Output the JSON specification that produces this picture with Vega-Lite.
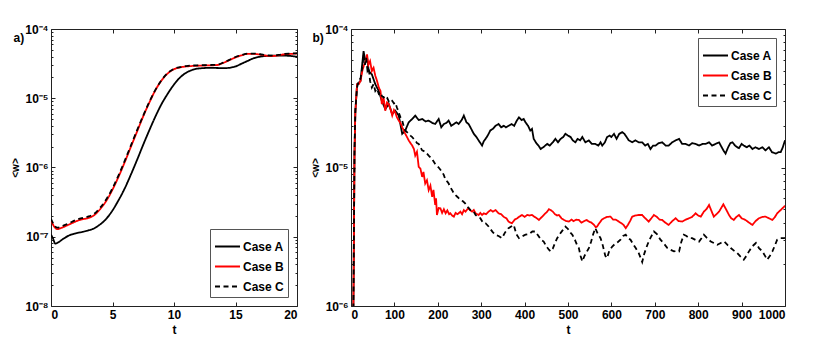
{
"$schema": "https://vega.github.io/schema/vega-lite/v6.json",
"padding": {"left": 10, "top": 22, "right": 5, "bottom": 5},
"background": "#ffffff",
"spacing": 12,
"config": {
  "view": {"stroke": "#222", "strokeWidth": 1},
  "font": "Liberation Sans",
  "axis": {"labelFont": "Liberation Sans", "labelFontWeight": "bold", "labelFontSize": 12, "labelColor": "#000", "titleFont": "Liberation Sans", "titleFontWeight": "bold", "titleFontSize": 12, "titleColor": "#000", "grid": false, "domain": false, "tickColor": "#222", "tickSize": -4, "labelPadding": 7},
  "legend": {"title": null, "strokeColor": "#555", "fillColor": "#fff", "padding": 4, "symbolType": "stroke", "symbolStrokeWidth": 2, "symbolSize": 625, "labelFont": "Liberation Sans", "labelFontWeight": "bold", "labelFontSize": 12, "labelColor": "#000", "labelOffset": 2, "rowPadding": 0, "offset": 9}
},
"datasets": {
"left": [
{"t":0,"w":1.07e-7,"c":"Case A"},{"t":0.15,"w":9.55e-8,"c":"Case A"},{"t":0.35,"w":7.94e-8,"c":"Case A"},{"t":0.6,"w":8.32e-8,"c":"Case A"},{"t":1,"w":9.33e-8,"c":"Case A"},{"t":1.5,"w":1.05e-7,"c":"Case A"},{"t":2,"w":1.12e-7,"c":"Case A"},{"t":2.5,"w":1.17e-7,"c":"Case A"},{"t":3,"w":1.23e-7,"c":"Case A"},{"t":3.5,"w":1.32e-7,"c":"Case A"},{"t":4,"w":1.51e-7,"c":"Case A"},{"t":4.5,"w":1.82e-7,"c":"Case A"},{"t":5,"w":2.40e-7,"c":"Case A"},{"t":5.5,"w":3.39e-7,"c":"Case A"},{"t":6,"w":5.01e-7,"c":"Case A"},{"t":6.5,"w":7.94e-7,"c":"Case A"},{"t":7,"w":1.29e-6,"c":"Case A"},{"t":7.5,"w":2.14e-6,"c":"Case A"},{"t":8,"w":3.47e-6,"c":"Case A"},{"t":8.5,"w":5.50e-6,"c":"Case A"},{"t":9,"w":8.32e-6,"c":"Case A"},{"t":9.5,"w":1.17e-5,"c":"Case A"},{"t":10,"w":1.58e-5,"c":"Case A"},{"t":10.5,"w":2.00e-5,"c":"Case A"},{"t":11,"w":2.34e-5,"c":"Case A"},{"t":11.5,"w":2.57e-5,"c":"Case A"},{"t":12,"w":2.69e-5,"c":"Case A"},{"t":13,"w":2.75e-5,"c":"Case A"},{"t":14,"w":2.72e-5,"c":"Case A"},{"t":14.5,"w":2.75e-5,"c":"Case A"},{"t":15,"w":2.88e-5,"c":"Case A"},{"t":15.5,"w":3.16e-5,"c":"Case A"},{"t":16,"w":3.47e-5,"c":"Case A"},{"t":16.5,"w":3.80e-5,"c":"Case A"},{"t":17,"w":3.98e-5,"c":"Case A"},{"t":18,"w":4.12e-5,"c":"Case A"},{"t":19,"w":4.12e-5,"c":"Case A"},{"t":20,"w":3.98e-5,"c":"Case A"},
{"t":0,"w":1.74e-7,"c":"Case B"},{"t":0.25,"w":1.41e-7,"c":"Case B"},{"t":0.5,"w":1.29e-7,"c":"Case B"},{"t":1,"w":1.38e-7,"c":"Case B"},{"t":1.5,"w":1.51e-7,"c":"Case B"},{"t":2,"w":1.66e-7,"c":"Case B"},{"t":2.5,"w":1.78e-7,"c":"Case B"},{"t":3,"w":1.86e-7,"c":"Case B"},{"t":3.5,"w":2.04e-7,"c":"Case B"},{"t":4,"w":2.51e-7,"c":"Case B"},{"t":4.5,"w":3.31e-7,"c":"Case B"},{"t":5,"w":4.79e-7,"c":"Case B"},{"t":5.5,"w":7.41e-7,"c":"Case B"},{"t":6,"w":1.20e-6,"c":"Case B"},{"t":6.5,"w":2.00e-6,"c":"Case B"},{"t":7,"w":3.31e-6,"c":"Case B"},{"t":7.5,"w":5.50e-6,"c":"Case B"},{"t":8,"w":8.71e-6,"c":"Case B"},{"t":8.5,"w":1.32e-5,"c":"Case B"},{"t":9,"w":1.82e-5,"c":"Case B"},{"t":9.5,"w":2.29e-5,"c":"Case B"},{"t":10,"w":2.63e-5,"c":"Case B"},{"t":10.5,"w":2.79e-5,"c":"Case B"},{"t":11,"w":2.88e-5,"c":"Case B"},{"t":12,"w":2.95e-5,"c":"Case B"},{"t":13,"w":2.99e-5,"c":"Case B"},{"t":13.5,"w":3.02e-5,"c":"Case B"},{"t":14,"w":3.24e-5,"c":"Case B"},{"t":14.5,"w":3.55e-5,"c":"Case B"},{"t":15,"w":3.89e-5,"c":"Case B"},{"t":15.5,"w":4.17e-5,"c":"Case B"},{"t":16,"w":4.37e-5,"c":"Case B"},{"t":16.5,"w":4.37e-5,"c":"Case B"},{"t":17,"w":4.27e-5,"c":"Case B"},{"t":17.5,"w":4.12e-5,"c":"Case B"},{"t":18,"w":4.07e-5,"c":"Case B"},{"t":18.5,"w":4.17e-5,"c":"Case B"},{"t":19,"w":4.32e-5,"c":"Case B"},{"t":19.5,"w":4.37e-5,"c":"Case B"},{"t":20,"w":4.42e-5,"c":"Case B"},
{"t":0,"w":1.82e-7,"c":"Case C"},{"t":0.25,"w":1.48e-7,"c":"Case C"},{"t":0.5,"w":1.35e-7,"c":"Case C"},{"t":1,"w":1.45e-7,"c":"Case C"},{"t":1.5,"w":1.58e-7,"c":"Case C"},{"t":2,"w":1.74e-7,"c":"Case C"},{"t":2.5,"w":1.86e-7,"c":"Case C"},{"t":3,"w":1.95e-7,"c":"Case C"},{"t":3.5,"w":2.14e-7,"c":"Case C"},{"t":4,"w":2.63e-7,"c":"Case C"},{"t":4.5,"w":3.47e-7,"c":"Case C"},{"t":5,"w":5.01e-7,"c":"Case C"},{"t":5.5,"w":7.76e-7,"c":"Case C"},{"t":6,"w":1.26e-6,"c":"Case C"},{"t":6.5,"w":2.09e-6,"c":"Case C"},{"t":7,"w":3.47e-6,"c":"Case C"},{"t":7.5,"w":5.62e-6,"c":"Case C"},{"t":8,"w":8.91e-6,"c":"Case C"},{"t":8.5,"w":1.33e-5,"c":"Case C"},{"t":9,"w":1.84e-5,"c":"Case C"},{"t":9.5,"w":2.32e-5,"c":"Case C"},{"t":10,"w":2.66e-5,"c":"Case C"},{"t":10.5,"w":2.82e-5,"c":"Case C"},{"t":11,"w":2.92e-5,"c":"Case C"},{"t":12,"w":2.99e-5,"c":"Case C"},{"t":13,"w":3.02e-5,"c":"Case C"},{"t":13.5,"w":3.05e-5,"c":"Case C"},{"t":14,"w":3.27e-5,"c":"Case C"},{"t":14.5,"w":3.59e-5,"c":"Case C"},{"t":15,"w":3.94e-5,"c":"Case C"},{"t":15.5,"w":4.22e-5,"c":"Case C"},{"t":16,"w":4.42e-5,"c":"Case C"},{"t":16.5,"w":4.42e-5,"c":"Case C"},{"t":17,"w":4.32e-5,"c":"Case C"},{"t":17.5,"w":4.17e-5,"c":"Case C"},{"t":18,"w":4.12e-5,"c":"Case C"},{"t":18.5,"w":4.22e-5,"c":"Case C"},{"t":19,"w":4.37e-5,"c":"Case C"},{"t":19.5,"w":4.42e-5,"c":"Case C"},{"t":20,"w":4.47e-5,"c":"Case C"}
],
"right": [
{"t":0,"w":1e-7,"c":"Case A"},{"t":4,"w":3e-7,"c":"Case A"},{"t":6,"w":1.5e-6,"c":"Case A"},{"t":8,"w":1.2e-5,"c":"Case A"},{"t":10,"w":2.5e-5,"c":"Case A"},{"t":14,"w":3.99e-5,"c":"Case A"},{"t":18,"w":4.1e-5,"c":"Case A"},{"t":22,"w":4.22e-5,"c":"Case A"},{"t":25,"w":5.25e-5,"c":"Case A"},{"t":29,"w":6.92e-5,"c":"Case A"},{"t":33,"w":5.87e-5,"c":"Case A"},{"t":37,"w":6.2e-5,"c":"Case A"},{"t":41,"w":4.97e-5,"c":"Case A"},{"t":48,"w":4.71e-5,"c":"Case A"},{"t":56,"w":3.99e-5,"c":"Case A"},{"t":64,"w":3.57e-5,"c":"Case A"},{"t":71,"w":3.03e-5,"c":"Case A"},{"t":79,"w":2.64e-5,"c":"Case A"},{"t":87,"w":2.87e-5,"c":"Case A"},{"t":95,"w":2.43e-5,"c":"Case A"},{"t":102,"w":2.57e-5,"c":"Case A"},{"t":110,"w":2.37e-5,"c":"Case A"},{"t":118,"w":1.75e-5,"c":"Case A"},{"t":125,"w":1.85e-5,"c":"Case A"},{"t":133,"w":2.12e-5,"c":"Case A"},{"t":141,"w":2.24e-5,"c":"Case A"},{"t":148,"w":2.37e-5,"c":"Case A"},{"t":156,"w":2.2e-5,"c":"Case A"},{"t":164,"w":2.24e-5,"c":"Case A"},{"t":172,"w":2.15e-5,"c":"Case A"},{"t":179,"w":2.18e-5,"c":"Case A"},{"t":187,"w":2.1e-5,"c":"Case A"},{"t":194,"w":2.06e-5,"c":"Case A"},{"t":202,"w":2.24e-5,"c":"Case A"},{"t":208,"w":1.95e-5,"c":"Case A"},{"t":214,"w":2.06e-5,"c":"Case A"},{"t":220,"w":2.1e-5,"c":"Case A"},{"t":225,"w":2.18e-5,"c":"Case A"},{"t":231,"w":2.0e-5,"c":"Case A"},{"t":237,"w":2.06e-5,"c":"Case A"},{"t":243,"w":2.12e-5,"c":"Case A"},{"t":248,"w":2.06e-5,"c":"Case A"},{"t":255,"w":2.2e-5,"c":"Case A"},{"t":260,"w":2.37e-5,"c":"Case A"},{"t":266,"w":2.12e-5,"c":"Case A"},{"t":271,"w":2.06e-5,"c":"Case A"},{"t":277,"w":1.9e-5,"c":"Case A"},{"t":283,"w":1.75e-5,"c":"Case A"},{"t":289,"w":1.66e-5,"c":"Case A"},{"t":294,"w":1.57e-5,"c":"Case A"},{"t":302,"w":1.44e-5,"c":"Case A"},{"t":306,"w":1.55e-5,"c":"Case A"},{"t":310,"w":1.61e-5,"c":"Case A"},{"t":315,"w":1.7e-5,"c":"Case A"},{"t":321,"w":1.85e-5,"c":"Case A"},{"t":327,"w":1.9e-5,"c":"Case A"},{"t":333,"w":2.0e-5,"c":"Case A"},{"t":340,"w":2.06e-5,"c":"Case A"},{"t":346,"w":1.95e-5,"c":"Case A"},{"t":352,"w":2.0e-5,"c":"Case A"},{"t":357,"w":1.95e-5,"c":"Case A"},{"t":363,"w":2.0e-5,"c":"Case A"},{"t":370,"w":2.06e-5,"c":"Case A"},{"t":376,"w":2.0e-5,"c":"Case A"},{"t":382,"w":2.18e-5,"c":"Case A"},{"t":387,"w":2.3e-5,"c":"Case A"},{"t":393,"w":2.2e-5,"c":"Case A"},{"t":398,"w":2.24e-5,"c":"Case A"},{"t":402,"w":2.12e-5,"c":"Case A"},{"t":408,"w":2.0e-5,"c":"Case A"},{"t":413,"w":1.85e-5,"c":"Case A"},{"t":417,"w":1.9e-5,"c":"Case A"},{"t":421,"w":1.61e-5,"c":"Case A"},{"t":427,"w":1.5e-5,"c":"Case A"},{"t":432,"w":1.44e-5,"c":"Case A"},{"t":437,"w":1.36e-5,"c":"Case A"},{"t":443,"w":1.4e-5,"c":"Case A"},{"t":452,"w":1.48e-5,"c":"Case A"},{"t":458,"w":1.44e-5,"c":"Case A"},{"t":465,"w":1.52e-5,"c":"Case A"},{"t":471,"w":1.61e-5,"c":"Case A"},{"t":477,"w":1.52e-5,"c":"Case A"},{"t":483,"w":1.61e-5,"c":"Case A"},{"t":489,"w":1.66e-5,"c":"Case A"},{"t":494,"w":1.75e-5,"c":"Case A"},{"t":500,"w":1.7e-5,"c":"Case A"},{"t":506,"w":1.66e-5,"c":"Case A"},{"t":511,"w":1.57e-5,"c":"Case A"},{"t":517,"w":1.52e-5,"c":"Case A"},{"t":522,"w":1.61e-5,"c":"Case A"},{"t":528,"w":1.57e-5,"c":"Case A"},{"t":533,"w":1.66e-5,"c":"Case A"},{"t":540,"w":1.52e-5,"c":"Case A"},{"t":548,"w":1.57e-5,"c":"Case A"},{"t":555,"w":1.48e-5,"c":"Case A"},{"t":563,"w":1.48e-5,"c":"Case A"},{"t":570,"w":1.44e-5,"c":"Case A"},{"t":575,"w":1.52e-5,"c":"Case A"},{"t":579,"w":1.44e-5,"c":"Case A"},{"t":585,"w":1.52e-5,"c":"Case A"},{"t":590,"w":1.66e-5,"c":"Case A"},{"t":596,"w":1.7e-5,"c":"Case A"},{"t":600,"w":1.66e-5,"c":"Case A"},{"t":606,"w":1.75e-5,"c":"Case A"},{"t":612,"w":1.61e-5,"c":"Case A"},{"t":618,"w":1.75e-5,"c":"Case A"},{"t":625,"w":1.8e-5,"c":"Case A"},{"t":630,"w":1.75e-5,"c":"Case A"},{"t":635,"w":1.66e-5,"c":"Case A"},{"t":640,"w":1.57e-5,"c":"Case A"},{"t":648,"w":1.52e-5,"c":"Case A"},{"t":655,"w":1.57e-5,"c":"Case A"},{"t":663,"w":1.52e-5,"c":"Case A"},{"t":671,"w":1.52e-5,"c":"Case A"},{"t":678,"w":1.44e-5,"c":"Case A"},{"t":684,"w":1.48e-5,"c":"Case A"},{"t":690,"w":1.36e-5,"c":"Case A"},{"t":696,"w":1.44e-5,"c":"Case A"},{"t":702,"w":1.44e-5,"c":"Case A"},{"t":709,"w":1.5e-5,"c":"Case A"},{"t":717,"w":1.52e-5,"c":"Case A"},{"t":725,"w":1.44e-5,"c":"Case A"},{"t":732,"w":1.44e-5,"c":"Case A"},{"t":740,"w":1.52e-5,"c":"Case A"},{"t":748,"w":1.57e-5,"c":"Case A"},{"t":756,"w":1.61e-5,"c":"Case A"},{"t":763,"w":1.48e-5,"c":"Case A"},{"t":771,"w":1.48e-5,"c":"Case A"},{"t":779,"w":1.44e-5,"c":"Case A"},{"t":786,"w":1.5e-5,"c":"Case A"},{"t":794,"w":1.48e-5,"c":"Case A"},{"t":802,"w":1.44e-5,"c":"Case A"},{"t":810,"w":1.48e-5,"c":"Case A"},{"t":817,"w":1.48e-5,"c":"Case A"},{"t":825,"w":1.52e-5,"c":"Case A"},{"t":832,"w":1.44e-5,"c":"Case A"},{"t":840,"w":1.48e-5,"c":"Case A"},{"t":848,"w":1.52e-5,"c":"Case A"},{"t":852,"w":1.44e-5,"c":"Case A"},{"t":858,"w":1.33e-5,"c":"Case A"},{"t":863,"w":1.26e-5,"c":"Case A"},{"t":869,"w":1.4e-5,"c":"Case A"},{"t":874,"w":1.5e-5,"c":"Case A"},{"t":879,"w":1.52e-5,"c":"Case A"},{"t":885,"w":1.44e-5,"c":"Case A"},{"t":890,"w":1.4e-5,"c":"Case A"},{"t":894,"w":1.38e-5,"c":"Case A"},{"t":900,"w":1.48e-5,"c":"Case A"},{"t":905,"w":1.44e-5,"c":"Case A"},{"t":912,"w":1.4e-5,"c":"Case A"},{"t":918,"w":1.44e-5,"c":"Case A"},{"t":925,"w":1.36e-5,"c":"Case A"},{"t":932,"w":1.4e-5,"c":"Case A"},{"t":940,"w":1.36e-5,"c":"Case A"},{"t":948,"w":1.4e-5,"c":"Case A"},{"t":955,"w":1.33e-5,"c":"Case A"},{"t":963,"w":1.4e-5,"c":"Case A"},{"t":970,"w":1.29e-5,"c":"Case A"},{"t":979,"w":1.26e-5,"c":"Case A"},{"t":985,"w":1.29e-5,"c":"Case A"},{"t":990,"w":1.29e-5,"c":"Case A"},{"t":995,"w":1.4e-5,"c":"Case A"},{"t":1000,"w":1.57e-5,"c":"Case A"},
{"t":0,"w":1e-7,"c":"Case B"},{"t":4,"w":3e-7,"c":"Case B"},{"t":6,"w":1.5e-6,"c":"Case B"},{"t":8,"w":1.2e-5,"c":"Case B"},{"t":10,"w":2.5e-5,"c":"Case B"},{"t":14,"w":3.99e-5,"c":"Case B"},{"t":18,"w":4.0e-5,"c":"Case B"},{"t":22,"w":4.22e-5,"c":"Case B"},{"t":26,"w":4.97e-5,"c":"Case B"},{"t":30,"w":5.5e-5,"c":"Case B"},{"t":34,"w":5.87e-5,"c":"Case B"},{"t":37,"w":6.55e-5,"c":"Case B"},{"t":40,"w":5.5e-5,"c":"Case B"},{"t":44,"w":5.87e-5,"c":"Case B"},{"t":48,"w":4.97e-5,"c":"Case B"},{"t":52,"w":5.25e-5,"c":"Case B"},{"t":56,"w":4.6e-5,"c":"Case B"},{"t":60,"w":4.22e-5,"c":"Case B"},{"t":64,"w":3.78e-5,"c":"Case B"},{"t":68,"w":3.57e-5,"c":"Case B"},{"t":71,"w":2.87e-5,"c":"Case B"},{"t":75,"w":3.2e-5,"c":"Case B"},{"t":79,"w":2.57e-5,"c":"Case B"},{"t":83,"w":2.95e-5,"c":"Case B"},{"t":87,"w":2.87e-5,"c":"Case B"},{"t":91,"w":2.64e-5,"c":"Case B"},{"t":95,"w":2.37e-5,"c":"Case B"},{"t":99,"w":2.6e-5,"c":"Case B"},{"t":102,"w":2.5e-5,"c":"Case B"},{"t":106,"w":2.3e-5,"c":"Case B"},{"t":110,"w":2.18e-5,"c":"Case B"},{"t":114,"w":2.1e-5,"c":"Case B"},{"t":118,"w":1.95e-5,"c":"Case B"},{"t":122,"w":1.85e-5,"c":"Case B"},{"t":125,"w":1.75e-5,"c":"Case B"},{"t":129,"w":1.66e-5,"c":"Case B"},{"t":133,"w":1.57e-5,"c":"Case B"},{"t":137,"w":1.5e-5,"c":"Case B"},{"t":141,"w":1.44e-5,"c":"Case B"},{"t":145,"w":1.36e-5,"c":"Case B"},{"t":148,"w":1.22e-5,"c":"Case B"},{"t":152,"w":1.3e-5,"c":"Case B"},{"t":156,"w":1.01e-5,"c":"Case B"},{"t":160,"w":9.8e-6,"c":"Case B"},{"t":164,"w":8.55e-6,"c":"Case B"},{"t":167,"w":9.29e-6,"c":"Case B"},{"t":171,"w":7.66e-6,"c":"Case B"},{"t":175,"w":8.09e-6,"c":"Case B"},{"t":179,"w":6.86e-6,"c":"Case B"},{"t":183,"w":7.4e-6,"c":"Case B"},{"t":187,"w":6.15e-6,"c":"Case B"},{"t":190,"w":6.9e-6,"c":"Case B"},{"t":194,"w":5.36e-6,"c":"Case B"},{"t":196,"w":6.0e-6,"c":"Case B"},{"t":198,"w":4.54e-6,"c":"Case B"},{"t":202,"w":5.1e-6,"c":"Case B"},{"t":206,"w":5.07e-6,"c":"Case B"},{"t":210,"w":4.7e-6,"c":"Case B"},{"t":214,"w":5.0e-6,"c":"Case B"},{"t":218,"w":4.67e-6,"c":"Case B"},{"t":222,"w":4.9e-6,"c":"Case B"},{"t":226,"w":4.6e-6,"c":"Case B"},{"t":229,"w":4.67e-6,"c":"Case B"},{"t":233,"w":4.5e-6,"c":"Case B"},{"t":237,"w":4.42e-6,"c":"Case B"},{"t":241,"w":4.7e-6,"c":"Case B"},{"t":245,"w":4.6e-6,"c":"Case B"},{"t":248,"w":4.67e-6,"c":"Case B"},{"t":252,"w":4.8e-6,"c":"Case B"},{"t":256,"w":4.6e-6,"c":"Case B"},{"t":260,"w":4.93e-6,"c":"Case B"},{"t":264,"w":4.8e-6,"c":"Case B"},{"t":268,"w":5.0e-6,"c":"Case B"},{"t":271,"w":5.07e-6,"c":"Case B"},{"t":275,"w":4.9e-6,"c":"Case B"},{"t":279,"w":4.8e-6,"c":"Case B"},{"t":283,"w":4.93e-6,"c":"Case B"},{"t":287,"w":4.67e-6,"c":"Case B"},{"t":291,"w":4.6e-6,"c":"Case B"},{"t":294,"w":4.54e-6,"c":"Case B"},{"t":298,"w":4.7e-6,"c":"Case B"},{"t":302,"w":4.54e-6,"c":"Case B"},{"t":306,"w":4.67e-6,"c":"Case B"},{"t":311,"w":4.6e-6,"c":"Case B"},{"t":317,"w":4.8e-6,"c":"Case B"},{"t":322,"w":4.93e-6,"c":"Case B"},{"t":327,"w":4.8e-6,"c":"Case B"},{"t":333,"w":4.93e-6,"c":"Case B"},{"t":340,"w":4.67e-6,"c":"Case B"},{"t":346,"w":4.6e-6,"c":"Case B"},{"t":352,"w":4.4e-6,"c":"Case B"},{"t":358,"w":4.3e-6,"c":"Case B"},{"t":363,"w":4.07e-6,"c":"Case B"},{"t":367,"w":4.0e-6,"c":"Case B"},{"t":371,"w":3.96e-6,"c":"Case B"},{"t":377,"w":4.2e-6,"c":"Case B"},{"t":383,"w":4.3e-6,"c":"Case B"},{"t":388,"w":4.42e-6,"c":"Case B"},{"t":394,"w":4.54e-6,"c":"Case B"},{"t":400,"w":4.4e-6,"c":"Case B"},{"t":406,"w":4.54e-6,"c":"Case B"},{"t":411,"w":4.5e-6,"c":"Case B"},{"t":417,"w":4.54e-6,"c":"Case B"},{"t":423,"w":4.4e-6,"c":"Case B"},{"t":428,"w":4.3e-6,"c":"Case B"},{"t":433,"w":4.18e-6,"c":"Case B"},{"t":440,"w":4.4e-6,"c":"Case B"},{"t":446,"w":4.6e-6,"c":"Case B"},{"t":452,"w":4.8e-6,"c":"Case B"},{"t":456,"w":5.0e-6,"c":"Case B"},{"t":460,"w":4.93e-6,"c":"Case B"},{"t":465,"w":4.8e-6,"c":"Case B"},{"t":470,"w":4.6e-6,"c":"Case B"},{"t":475,"w":4.5e-6,"c":"Case B"},{"t":479,"w":4.54e-6,"c":"Case B"},{"t":485,"w":4.3e-6,"c":"Case B"},{"t":490,"w":4.2e-6,"c":"Case B"},{"t":496,"w":4.1e-6,"c":"Case B"},{"t":502,"w":4.07e-6,"c":"Case B"},{"t":508,"w":4.2e-6,"c":"Case B"},{"t":513,"w":4.1e-6,"c":"Case B"},{"t":519,"w":4.2e-6,"c":"Case B"},{"t":525,"w":4.18e-6,"c":"Case B"},{"t":531,"w":4.0e-6,"c":"Case B"},{"t":537,"w":4.1e-6,"c":"Case B"},{"t":543,"w":4.18e-6,"c":"Case B"},{"t":548,"w":4.07e-6,"c":"Case B"},{"t":554,"w":4.0e-6,"c":"Case B"},{"t":560,"w":3.85e-6,"c":"Case B"},{"t":564,"w":3.7e-6,"c":"Case B"},{"t":567,"w":3.75e-6,"c":"Case B"},{"t":572,"w":3.96e-6,"c":"Case B"},{"t":578,"w":4.2e-6,"c":"Case B"},{"t":583,"w":4.3e-6,"c":"Case B"},{"t":590,"w":4.4e-6,"c":"Case B"},{"t":598,"w":4.42e-6,"c":"Case B"},{"t":604,"w":4.2e-6,"c":"Case B"},{"t":610,"w":4.2e-6,"c":"Case B"},{"t":617,"w":4.07e-6,"c":"Case B"},{"t":623,"w":3.96e-6,"c":"Case B"},{"t":628,"w":3.85e-6,"c":"Case B"},{"t":633,"w":3.65e-6,"c":"Case B"},{"t":638,"w":3.85e-6,"c":"Case B"},{"t":643,"w":4.1e-6,"c":"Case B"},{"t":648,"w":4.42e-6,"c":"Case B"},{"t":655,"w":4.5e-6,"c":"Case B"},{"t":663,"w":4.54e-6,"c":"Case B"},{"t":671,"w":4.54e-6,"c":"Case B"},{"t":678,"w":4.3e-6,"c":"Case B"},{"t":686,"w":4.07e-6,"c":"Case B"},{"t":692,"w":4.3e-6,"c":"Case B"},{"t":698,"w":4.54e-6,"c":"Case B"},{"t":705,"w":4.4e-6,"c":"Case B"},{"t":711,"w":4.2e-6,"c":"Case B"},{"t":717,"w":4.18e-6,"c":"Case B"},{"t":724,"w":4.0e-6,"c":"Case B"},{"t":732,"w":3.85e-6,"c":"Case B"},{"t":740,"w":4.1e-6,"c":"Case B"},{"t":748,"w":4.3e-6,"c":"Case B"},{"t":755,"w":4.1e-6,"c":"Case B"},{"t":763,"w":4.07e-6,"c":"Case B"},{"t":771,"w":4.2e-6,"c":"Case B"},{"t":779,"w":4.3e-6,"c":"Case B"},{"t":786,"w":4.4e-6,"c":"Case B"},{"t":794,"w":4.67e-6,"c":"Case B"},{"t":800,"w":4.5e-6,"c":"Case B"},{"t":806,"w":4.42e-6,"c":"Case B"},{"t":813,"w":4.8e-6,"c":"Case B"},{"t":819,"w":5.0e-6,"c":"Case B"},{"t":825,"w":5.36e-6,"c":"Case B"},{"t":830,"w":4.9e-6,"c":"Case B"},{"t":836,"w":4.42e-6,"c":"Case B"},{"t":842,"w":4.6e-6,"c":"Case B"},{"t":848,"w":4.8e-6,"c":"Case B"},{"t":853,"w":5.1e-6,"c":"Case B"},{"t":858,"w":5.42e-6,"c":"Case B"},{"t":864,"w":5.0e-6,"c":"Case B"},{"t":871,"w":4.54e-6,"c":"Case B"},{"t":876,"w":4.3e-6,"c":"Case B"},{"t":882,"w":4.18e-6,"c":"Case B"},{"t":888,"w":4.4e-6,"c":"Case B"},{"t":894,"w":4.54e-6,"c":"Case B"},{"t":900,"w":4.3e-6,"c":"Case B"},{"t":909,"w":4.18e-6,"c":"Case B"},{"t":917,"w":4.0e-6,"c":"Case B"},{"t":925,"w":3.85e-6,"c":"Case B"},{"t":932,"w":4.1e-6,"c":"Case B"},{"t":940,"w":4.3e-6,"c":"Case B"},{"t":948,"w":4.4e-6,"c":"Case B"},{"t":955,"w":4.42e-6,"c":"Case B"},{"t":963,"w":4.3e-6,"c":"Case B"},{"t":971,"w":4.18e-6,"c":"Case B"},{"t":977,"w":4.4e-6,"c":"Case B"},{"t":982,"w":4.67e-6,"c":"Case B"},{"t":990,"w":4.93e-6,"c":"Case B"},{"t":998,"w":5.21e-6,"c":"Case B"},{"t":1000,"w":5.3e-6,"c":"Case B"},
{"t":0,"w":1e-7,"c":"Case C"},{"t":4,"w":3e-7,"c":"Case C"},{"t":6,"w":1.5e-6,"c":"Case C"},{"t":8,"w":1.3e-5,"c":"Case C"},{"t":10,"w":2.6e-5,"c":"Case C"},{"t":14,"w":3.8e-5,"c":"Case C"},{"t":18,"w":4.22e-5,"c":"Case C"},{"t":22,"w":4.4e-5,"c":"Case C"},{"t":26,"w":5.25e-5,"c":"Case C"},{"t":29,"w":6.5e-5,"c":"Case C"},{"t":32,"w":5.5e-5,"c":"Case C"},{"t":35,"w":6.2e-5,"c":"Case C"},{"t":38,"w":5.0e-5,"c":"Case C"},{"t":41,"w":5.2e-5,"c":"Case C"},{"t":44,"w":4.2e-5,"c":"Case C"},{"t":48,"w":3.78e-5,"c":"Case C"},{"t":52,"w":4.0e-5,"c":"Case C"},{"t":56,"w":3.57e-5,"c":"Case C"},{"t":60,"w":3.7e-5,"c":"Case C"},{"t":64,"w":3.4e-5,"c":"Case C"},{"t":68,"w":3.5e-5,"c":"Case C"},{"t":71,"w":3.29e-5,"c":"Case C"},{"t":75,"w":3.2e-5,"c":"Case C"},{"t":79,"w":3.3e-5,"c":"Case C"},{"t":83,"w":3.2e-5,"c":"Case C"},{"t":87,"w":3.0e-5,"c":"Case C"},{"t":91,"w":3.1e-5,"c":"Case C"},{"t":95,"w":3.03e-5,"c":"Case C"},{"t":99,"w":2.9e-5,"c":"Case C"},{"t":102,"w":2.95e-5,"c":"Case C"},{"t":106,"w":2.7e-5,"c":"Case C"},{"t":110,"w":2.5e-5,"c":"Case C"},{"t":114,"w":2.3e-5,"c":"Case C"},{"t":118,"w":2.18e-5,"c":"Case C"},{"t":122,"w":1.95e-5,"c":"Case C"},{"t":125,"w":1.85e-5,"c":"Case C"},{"t":129,"w":1.8e-5,"c":"Case C"},{"t":133,"w":1.75e-5,"c":"Case C"},{"t":137,"w":1.7e-5,"c":"Case C"},{"t":141,"w":1.66e-5,"c":"Case C"},{"t":145,"w":1.6e-5,"c":"Case C"},{"t":148,"w":1.57e-5,"c":"Case C"},{"t":152,"w":1.5e-5,"c":"Case C"},{"t":156,"w":1.48e-5,"c":"Case C"},{"t":160,"w":1.4e-5,"c":"Case C"},{"t":164,"w":1.33e-5,"c":"Case C"},{"t":171,"w":1.3e-5,"c":"Case C"},{"t":179,"w":1.22e-5,"c":"Case C"},{"t":187,"w":1.15e-5,"c":"Case C"},{"t":194,"w":1.06e-5,"c":"Case C"},{"t":202,"w":1.0e-5,"c":"Case C"},{"t":210,"w":9.29e-6,"c":"Case C"},{"t":214,"w":8.8e-6,"c":"Case C"},{"t":218,"w":8.09e-6,"c":"Case C"},{"t":222,"w":7.9e-6,"c":"Case C"},{"t":225,"w":7.66e-6,"c":"Case C"},{"t":229,"w":7.2e-6,"c":"Case C"},{"t":233,"w":6.86e-6,"c":"Case C"},{"t":237,"w":6.5e-6,"c":"Case C"},{"t":241,"w":6.31e-6,"c":"Case C"},{"t":246,"w":6.1e-6,"c":"Case C"},{"t":252,"w":5.82e-6,"c":"Case C"},{"t":258,"w":5.7e-6,"c":"Case C"},{"t":263,"w":5.51e-6,"c":"Case C"},{"t":269,"w":5.2e-6,"c":"Case C"},{"t":275,"w":4.93e-6,"c":"Case C"},{"t":281,"w":4.9e-6,"c":"Case C"},{"t":287,"w":4.54e-6,"c":"Case C"},{"t":292,"w":4.4e-6,"c":"Case C"},{"t":298,"w":4.3e-6,"c":"Case C"},{"t":304,"w":4.0e-6,"c":"Case C"},{"t":310,"w":3.96e-6,"c":"Case C"},{"t":317,"w":3.75e-6,"c":"Case C"},{"t":321,"w":3.6e-6,"c":"Case C"},{"t":327,"w":3.4e-6,"c":"Case C"},{"t":333,"w":3.27e-6,"c":"Case C"},{"t":340,"w":3.2e-6,"c":"Case C"},{"t":348,"w":3.09e-6,"c":"Case C"},{"t":355,"w":3.4e-6,"c":"Case C"},{"t":363,"w":3.65e-6,"c":"Case C"},{"t":369,"w":3.75e-6,"c":"Case C"},{"t":375,"w":3.85e-6,"c":"Case C"},{"t":381,"w":3.3e-6,"c":"Case C"},{"t":387,"w":3.09e-6,"c":"Case C"},{"t":394,"w":3.18e-6,"c":"Case C"},{"t":402,"w":3.27e-6,"c":"Case C"},{"t":410,"w":3.3e-6,"c":"Case C"},{"t":418,"w":3.45e-6,"c":"Case C"},{"t":425,"w":3.45e-6,"c":"Case C"},{"t":432,"w":3.2e-6,"c":"Case C"},{"t":438,"w":3.0e-6,"c":"Case C"},{"t":444,"w":2.92e-6,"c":"Case C"},{"t":450,"w":2.7e-6,"c":"Case C"},{"t":456,"w":2.55e-6,"c":"Case C"},{"t":460,"w":2.48e-6,"c":"Case C"},{"t":465,"w":2.6e-6,"c":"Case C"},{"t":470,"w":2.85e-6,"c":"Case C"},{"t":475,"w":3.09e-6,"c":"Case C"},{"t":481,"w":3.3e-6,"c":"Case C"},{"t":487,"w":3.5e-6,"c":"Case C"},{"t":494,"w":3.75e-6,"c":"Case C"},{"t":500,"w":3.6e-6,"c":"Case C"},{"t":505,"w":3.4e-6,"c":"Case C"},{"t":510,"w":3.27e-6,"c":"Case C"},{"t":516,"w":3.0e-6,"c":"Case C"},{"t":521,"w":2.75e-6,"c":"Case C"},{"t":525,"w":2.62e-6,"c":"Case C"},{"t":529,"w":2.3e-6,"c":"Case C"},{"t":533,"w":2.1e-6,"c":"Case C"},{"t":538,"w":2.3e-6,"c":"Case C"},{"t":543,"w":2.45e-6,"c":"Case C"},{"t":548,"w":2.62e-6,"c":"Case C"},{"t":553,"w":2.9e-6,"c":"Case C"},{"t":558,"w":3.3e-6,"c":"Case C"},{"t":563,"w":3.65e-6,"c":"Case C"},{"t":569,"w":3.3e-6,"c":"Case C"},{"t":575,"w":3.09e-6,"c":"Case C"},{"t":580,"w":2.75e-6,"c":"Case C"},{"t":586,"w":2.3e-6,"c":"Case C"},{"t":590,"w":2.22e-6,"c":"Case C"},{"t":595,"w":2.5e-6,"c":"Case C"},{"t":602,"w":2.69e-6,"c":"Case C"},{"t":608,"w":2.8e-6,"c":"Case C"},{"t":615,"w":2.9e-6,"c":"Case C"},{"t":621,"w":3.01e-6,"c":"Case C"},{"t":627,"w":3.2e-6,"c":"Case C"},{"t":633,"w":3.27e-6,"c":"Case C"},{"t":638,"w":3.1e-6,"c":"Case C"},{"t":644,"w":3.01e-6,"c":"Case C"},{"t":650,"w":2.8e-6,"c":"Case C"},{"t":656,"w":2.62e-6,"c":"Case C"},{"t":663,"w":2.41e-6,"c":"Case C"},{"t":668,"w":2.2e-6,"c":"Case C"},{"t":671,"w":2.08e-6,"c":"Case C"},{"t":676,"w":2.4e-6,"c":"Case C"},{"t":683,"w":2.77e-6,"c":"Case C"},{"t":690,"w":3.1e-6,"c":"Case C"},{"t":698,"w":3.45e-6,"c":"Case C"},{"t":705,"w":3.3e-6,"c":"Case C"},{"t":713,"w":3.01e-6,"c":"Case C"},{"t":720,"w":2.85e-6,"c":"Case C"},{"t":729,"w":2.62e-6,"c":"Case C"},{"t":736,"w":2.55e-6,"c":"Case C"},{"t":744,"w":2.48e-6,"c":"Case C"},{"t":750,"w":2.5e-6,"c":"Case C"},{"t":756,"w":2.48e-6,"c":"Case C"},{"t":761,"w":2.9e-6,"c":"Case C"},{"t":767,"w":3.27e-6,"c":"Case C"},{"t":773,"w":3.2e-6,"c":"Case C"},{"t":779,"w":3.1e-6,"c":"Case C"},{"t":786,"w":3.09e-6,"c":"Case C"},{"t":794,"w":3.0e-6,"c":"Case C"},{"t":802,"w":2.92e-6,"c":"Case C"},{"t":808,"w":3.1e-6,"c":"Case C"},{"t":813,"w":3.27e-6,"c":"Case C"},{"t":820,"w":3.1e-6,"c":"Case C"},{"t":829,"w":2.92e-6,"c":"Case C"},{"t":836,"w":2.85e-6,"c":"Case C"},{"t":844,"w":2.77e-6,"c":"Case C"},{"t":852,"w":2.85e-6,"c":"Case C"},{"t":860,"w":2.92e-6,"c":"Case C"},{"t":868,"w":2.75e-6,"c":"Case C"},{"t":875,"w":2.62e-6,"c":"Case C"},{"t":883,"w":2.5e-6,"c":"Case C"},{"t":890,"w":2.41e-6,"c":"Case C"},{"t":897,"w":2.28e-6,"c":"Case C"},{"t":905,"w":2.16e-6,"c":"Case C"},{"t":911,"w":2.3e-6,"c":"Case C"},{"t":917,"w":2.48e-6,"c":"Case C"},{"t":925,"w":2.7e-6,"c":"Case C"},{"t":933,"w":2.85e-6,"c":"Case C"},{"t":940,"w":2.62e-6,"c":"Case C"},{"t":948,"w":2.48e-6,"c":"Case C"},{"t":954,"w":2.3e-6,"c":"Case C"},{"t":959,"w":2.16e-6,"c":"Case C"},{"t":965,"w":2.3e-6,"c":"Case C"},{"t":971,"w":2.48e-6,"c":"Case C"},{"t":977,"w":2.75e-6,"c":"Case C"},{"t":982,"w":3.01e-6,"c":"Case C"},{"t":990,"w":3.09e-6,"c":"Case C"},{"t":998,"w":3.09e-6,"c":"Case C"},{"t":1000,"w":3.1e-6,"c":"Case C"}
]
},
"hconcat": [
{
  "width": 246, "height": 277,
  "data": {"name": "left"},
  "resolve": {"axis": {"x": "independent", "y": "independent"}},
  "layer": [
    {
      "mark": {"type": "line", "strokeWidth": 1.8, "interpolate": "monotone", "clip": true},
      "encoding": {
        "x": {"field": "t", "type": "quantitative", "scale": {"domain": [0, 20], "nice": false, "zero": false}, "axis": {"values": [0, 5, 10, 15, 20], "title": "t", "titlePadding": 4, "orient": "bottom"}},
        "y": {"field": "w", "type": "quantitative", "scale": {"type": "log", "domain": [1e-8, 1e-4], "nice": false}, "axis": {"orient": "left", "values": [1e-8, 1e-7, 1e-6, 1e-5, 1e-4], "labelExpr": "'10⁻' + ['⁰','¹','²','³','⁴','⁵','⁶','⁷','⁸','⁹'][-round(log(datum.value)/LN10)]", "title": "<w>", "titleFontSize": 10, "titlePadding": 4}},
        "color": {"field": "c", "type": "nominal", "scale": {"domain": ["Case A", "Case B", "Case C"], "range": ["#000000", "#ff0000", "#000000"]}, "legend": {"orient": "bottom-right"}},
        "strokeDash": {"field": "c", "type": "nominal", "scale": {"domain": ["Case A", "Case B", "Case C"], "range": [[1, 0], [1, 0], [5, 3.5]]}, "legend": {"orient": "bottom-right"}}
      }
    },
    {
      "mark": {"type": "line", "strokeOpacity": 0},
      "encoding": {
        "x": {"field": "t", "type": "quantitative", "axis": {"orient": "top", "values": [0, 5, 10, 15, 20], "labels": false, "title": "a)", "titleX": -38, "titleY": 12, "titleAlign": "left", "titleBaseline": "alphabetic", "titleAngle": 0}},
        "y": {"field": "w", "type": "quantitative", "axis": {"orient": "right", "values": [1e-8, 1e-7, 1e-6, 1e-5, 1e-4], "labels": false, "title": null}}
      }
    },
    {
      "mark": {"type": "line", "strokeOpacity": 0},
      "encoding": {
        "x": {"field": "t", "type": "quantitative", "axis": null},
        "y": {"field": "w", "type": "quantitative", "axis": {"orient": "left", "values": [2e-8,3e-8,4e-8,5e-8,6e-8,7e-8,8e-8,9e-8,2e-7,3e-7,4e-7,5e-7,6e-7,7e-7,8e-7,9e-7,2e-6,3e-6,4e-6,5e-6,6e-6,7e-6,8e-6,9e-6,2e-5,3e-5,4e-5,5e-5,6e-5,7e-5,8e-5,9e-5], "labels": false, "title": null, "tickSize": -2}}
      }
    },
    {
      "mark": {"type": "line", "strokeOpacity": 0},
      "encoding": {
        "x": {"field": "t", "type": "quantitative", "axis": null},
        "y": {"field": "w", "type": "quantitative", "axis": {"orient": "right", "values": [2e-8,3e-8,4e-8,5e-8,6e-8,7e-8,8e-8,9e-8,2e-7,3e-7,4e-7,5e-7,6e-7,7e-7,8e-7,9e-7,2e-6,3e-6,4e-6,5e-6,6e-6,7e-6,8e-6,9e-6,2e-5,3e-5,4e-5,5e-5,6e-5,7e-5,8e-5,9e-5], "labels": false, "title": null, "tickSize": -2}}
      }
    }
  ]
},
{
  "width": 434, "height": 277,
  "data": {"name": "right"},
  "resolve": {"axis": {"x": "independent", "y": "independent"}},
  "layer": [
    {
      "mark": {"type": "line", "strokeWidth": 1.8, "clip": true},
      "encoding": {
        "x": {"field": "t", "type": "quantitative", "scale": {"domain": [0, 1000], "nice": false}, "axis": {"values": [0,100,200,300,400,500,600,700,800,900,1000], "format": "d", "title": "t", "titlePadding": 4, "orient": "bottom"}},
        "y": {"field": "w", "type": "quantitative", "scale": {"type": "log", "domain": [1e-6, 1e-4], "nice": false}, "axis": {"orient": "left", "values": [1e-6, 1e-5, 1e-4], "labelExpr": "'10⁻' + ['⁰','¹','²','³','⁴','⁵','⁶','⁷','⁸','⁹'][-round(log(datum.value)/LN10)]", "title": "<w>", "titleFontSize": 10, "titlePadding": 4}},
        "color": {"field": "c", "type": "nominal", "scale": {"domain": ["Case A", "Case B", "Case C"], "range": ["#000000", "#ff0000", "#000000"]}, "legend": {"orient": "top-right"}},
        "strokeDash": {"field": "c", "type": "nominal", "scale": {"domain": ["Case A", "Case B", "Case C"], "range": [[1, 0], [1, 0], [5, 3.5]]}, "legend": {"orient": "top-right"}}
      }
    },
    {
      "mark": {"type": "line", "strokeOpacity": 0},
      "encoding": {
        "x": {"field": "t", "type": "quantitative", "axis": {"orient": "top", "values": [0,100,200,300,400,500,600,700,800,900,1000], "labels": false, "title": "b)", "titleX": -39, "titleY": 12, "titleAlign": "left", "titleBaseline": "alphabetic", "titleAngle": 0}},
        "y": {"field": "w", "type": "quantitative", "axis": {"orient": "right", "values": [1e-6, 1e-5, 1e-4], "labels": false, "title": null}}
      }
    },
    {
      "mark": {"type": "line", "strokeOpacity": 0},
      "encoding": {
        "x": {"field": "t", "type": "quantitative", "axis": null},
        "y": {"field": "w", "type": "quantitative", "axis": {"orient": "left", "values": [2e-6,3e-6,4e-6,5e-6,6e-6,7e-6,8e-6,9e-6,2e-5,3e-5,4e-5,5e-5,6e-5,7e-5,8e-5,9e-5], "labels": false, "title": null, "tickSize": -2}}
      }
    },
    {
      "mark": {"type": "line", "strokeOpacity": 0},
      "encoding": {
        "x": {"field": "t", "type": "quantitative", "axis": null},
        "y": {"field": "w", "type": "quantitative", "axis": {"orient": "right", "values": [2e-6,3e-6,4e-6,5e-6,6e-6,7e-6,8e-6,9e-6,2e-5,3e-5,4e-5,5e-5,6e-5,7e-5,8e-5,9e-5], "labels": false, "title": null, "tickSize": -2}}
      }
    }
  ]
}
]
}
